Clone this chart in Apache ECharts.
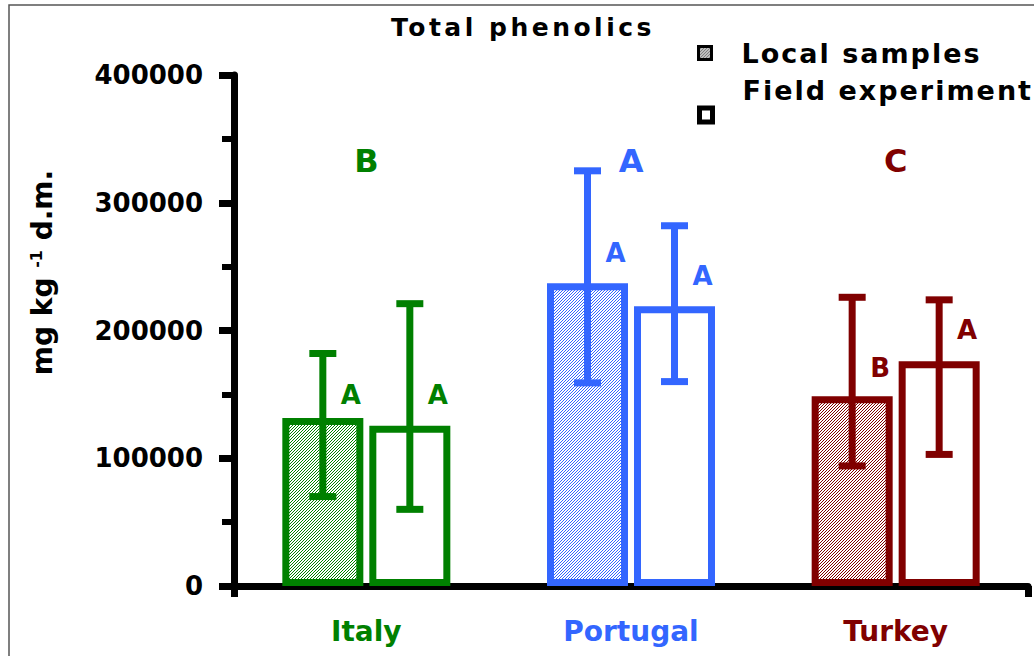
<!DOCTYPE html>
<html>
<head>
<meta charset="utf-8">
<script src="https://cdn.jsdelivr.net/npm/echarts@6/dist/echarts.min.js"></script>
<style>
html,body{margin:0;padding:0;background:#fff;}
#chart{width:1034px;height:656px;}
</style>
</head>
<body>
<div id="chart"></div>
<script>
// ---- data ----
const categories = ['Italy', 'Portugal', 'Turkey'];
const catColors = ['#008000', '#3366FF', '#800000'];
const localMean = [131500, 237000, 148500];
const localLow  = [70000, 159000, 94000];
const localHigh = [182000, 325000, 226000];
const fieldMean = [125500, 219000, 176000];
const fieldLow  = [60000, 160000, 103000];
const fieldHigh = [221000, 282000, 224000];
const groupLetters = ['B', 'A', 'C'];
const groupLetterY = [333000, 333000, 333000];
const localLetters = ['A', 'A', 'B'];
const localLetterY = [149500, 261000, 170600];
const fieldLetters = ['A', 'A', 'A'];
const fieldLetterY = [149500, 242600, 200400];
const yTicks = [0, 100000, 200000, 300000, 400000];

// ---- style constants ----
const FONT = 'DejaVu Sans';
const BAR_W = 81;
const BAR_GAP_PX = 6;
const OFFSET = (BAR_W + BAR_GAP_PX) / 2;

function hatch(color) {
  const n = 3;
  const c = document.createElement('canvas');
  c.width = n; c.height = n;
  const ctx = c.getContext('2d');
  ctx.fillStyle = '#fff'; ctx.fillRect(0, 0, n, n);
  ctx.fillStyle = color;
  for (let x = 0; x < n; x++) for (let y = 0; y < n; y++) {
    if ((x + y) % n === 0) ctx.fillRect(x, y, 1, 1);
  }
  return { image: c, repeat: 'repeat', imageWidth: n, imageHeight: n };
}

const chart = echarts.init(document.getElementById('chart'), null, { renderer: 'svg' });

function errSeries(name, low, high, sign) {
  return {
    type: 'custom', name: name + ' err', xAxisIndex: 0, yAxisIndex: 0, z: 5,
    data: categories.map((c, i) => [i, low[i], high[i]]),
    renderItem: function (params, api) {
      const i = api.value(0);
      const cx = api.coord([i, 0])[0] + sign * OFFSET;
      const yl = api.coord([i, api.value(1)])[1];
      const yh = api.coord([i, api.value(2)])[1];
      const st = { stroke: catColors[i], lineWidth: 7 };
      return { type: 'group', children: [
        { type: 'line', shape: { x1: cx, y1: yl, x2: cx, y2: yh }, style: st },
        { type: 'line', shape: { x1: cx - 13.5, y1: yh, x2: cx + 13.5, y2: yh }, style: st },
        { type: 'line', shape: { x1: cx - 13.5, y1: yl, x2: cx + 13.5, y2: yl }, style: st }
      ]};
    }
  };
}

function letterSeries(letters, ys, dx, size) {
  return {
    type: 'custom', z: 6,
    data: categories.map((c, i) => [i, ys[i]]),
    renderItem: function (params, api) {
      const i = api.value(0);
      const p = api.coord([i, api.value(1)]);
      return { type: 'text', x: p[0] + dx, y: p[1], style: {
        text: letters[i], fill: catColors[i], fontSize: size, fontWeight: 'bold', fontFamily: FONT,
        align: 'center', verticalAlign: 'middle', textAlign: 'center', textVerticalAlign: 'middle'
      }};
    }
  };
}

const option = {
  animation: false,
  backgroundColor: '#fff',
  title: {
    text: 'Total phenolics', left: 391, top: 15, padding: 0,
    textStyle: { fontFamily: FONT, fontWeight: 'bold', fontSize: 25, color: '#000' }
  },
  legend: [{
    orient: 'vertical', left: 697, top: 38, padding: 0,
    itemWidth: 13, itemHeight: 13, icon: 'rect',
    textStyle: { fontFamily: FONT, fontWeight: 'bold', fontSize: 27, lineHeight: 30, color: '#000', padding: [0, 0, 0, 25] },
    data: [{ name: 'Local samples', itemStyle: { color: hatch('#000'), borderColor: '#000', borderWidth: 3 } }]
  }, {
    orient: 'vertical', left: 697, top: 66, padding: 0,
    itemWidth: 13, itemHeight: 14, icon: 'rect',
    formatter: function (name) { return name + '\n '; },
    textStyle: { fontFamily: FONT, fontWeight: 'bold', fontSize: 27, lineHeight: 49, color: '#000', padding: [0, 0, 0, 25] },
    data: [{ name: 'Field experiment', itemStyle: { color: '#fff', borderColor: '#000', borderWidth: 5 } }]
  }],
  grid: { left: 234, right: 6, top: 75, bottom: 70, containLabel: false },
  xAxis: [{
    type: 'category', data: categories, boundaryGap: true,
    axisLine: { lineStyle: { color: '#000', width: 7 } },
    axisTick: { show: false },
    axisLabel: {
      margin: 31, fontFamily: FONT, fontWeight: 'bold', fontSize: 28,
      color: function (v, i) { return catColors[i]; }
    }
  }, {
    type: 'value', min: 0, max: 1, interval: 1, position: 'bottom',
    axisLine: { show: false }, axisLabel: { show: false }, splitLine: { show: false },
    axisTick: { show: true, length: 11, lineStyle: { color: '#000', width: 7 } }
  }],
  yAxis: {
    type: 'value', min: yTicks[0], max: yTicks[yTicks.length - 1], interval: 100000,
    name: '{a|mg kg }{s|-1}{a| d.m.}', nameLocation: 'middle', nameRotate: 90, nameGap: 178,
    nameTextStyle: {
      padding: [0, 0, 0, 116],
      rich: {
        a: { fontFamily: FONT, fontWeight: 'bold', fontSize: 28, color: '#000' },
        s: { fontFamily: FONT, fontWeight: 'bold', fontSize: 16, color: '#000', verticalAlign: 'top' }
      }
    },
    axisLine: { show: true, lineStyle: { color: '#000', width: 7 } },
    axisTick: { show: true, length: 15, lineStyle: { color: '#000', width: 7 } },
    minorTick: { show: true, splitNumber: 2, length: 12, lineStyle: { color: '#000', width: 6 } },
    splitLine: { show: false },
    axisLabel: {
      margin: 31, fontFamily: FONT, fontWeight: 'bold', fontSize: 26, color: '#000',
      formatter: function (v) { return String(v); }
    }
  },
  graphic: [{
    type: 'rect', shape: { x: 9, y: 5, width: 1200, height: 800 },
    style: { fill: 'none', stroke: '#555', lineWidth: 1.5 }, silent: true
  }],
  series: [
    {
      name: 'Local samples', type: 'bar', barWidth: BAR_W, barGap: (BAR_GAP_PX / BAR_W * 100) + '%',
      data: localMean.map((v, i) => ({ value: v, itemStyle: { color: hatch(catColors[i]), borderColor: catColors[i], borderWidth: 7 } }))
    },
    {
      name: 'Field experiment', type: 'bar', barWidth: BAR_W,
      data: fieldMean.map((v, i) => ({ value: v, itemStyle: { color: '#fff', borderColor: catColors[i], borderWidth: 7 } }))
    },
    errSeries('Local samples', localLow, localHigh, -1),
    errSeries('Field experiment', fieldLow, fieldHigh, 1),
    letterSeries(groupLetters, groupLetterY, 0, 32),
    letterSeries(localLetters, localLetterY, -OFFSET + 28, 26),
    letterSeries(fieldLetters, fieldLetterY, OFFSET + 28, 26)
  ]
};
chart.setOption(option);

const spaced = { 'Total phenolics': '3.5px', 'Local samples': '2px', 'Field experiment': '2px' };
function applySpacing() {
  chart.getDom().querySelectorAll('text, tspan').forEach(function (t) {
    const s = spaced[t.textContent.trim()];
    if (s) t.style.letterSpacing = s;
  });
}
chart.on('finished', applySpacing);
applySpacing();
</script>
</body>
</html>
